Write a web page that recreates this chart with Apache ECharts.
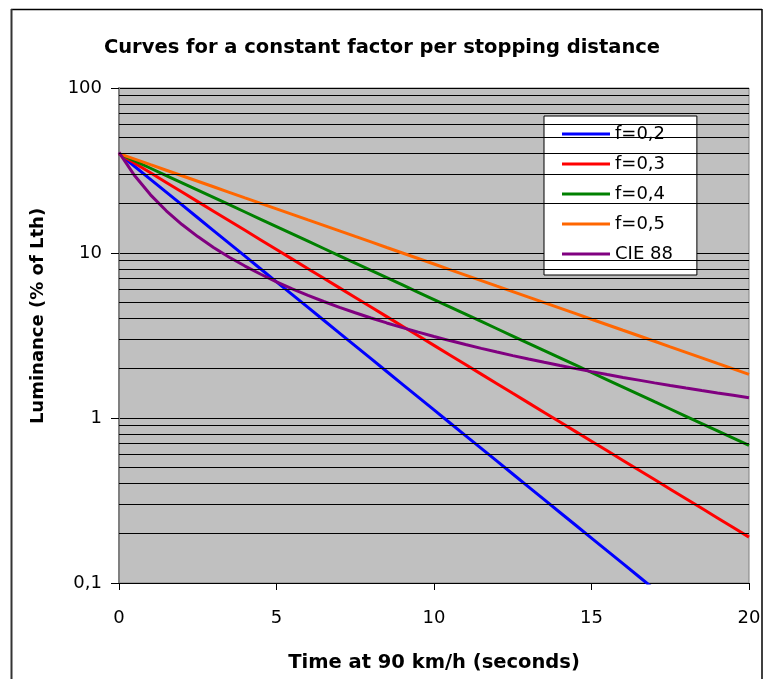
<!DOCTYPE html>
<html>
<head>
<meta charset="utf-8">
<script src="https://cdn.jsdelivr.net/npm/echarts@6/dist/echarts.min.js"></script>
<style>html,body{margin:0;padding:0;background:#fff;}#c{width:764px;height:679px;}</style>
</head>
<body>
<div id="c"></div>
<script>
var times = [0,0.5,1,1.5,2,2.5,3,3.5,4,4.5,5,5.5,6,6.5,7,7.5,8,8.5,9,9.5,10,10.5,11,11.5,12,12.5,13,13.5,14,14.5,15,15.5,16,16.5,17,17.5,18,18.5,19,19.5,20];
var f02 = [40,33.45,27.97,23.39,19.56,16.36,13.68,11.44,9.566,8.0,6.69,5.595,4.679,3.913,3.272,2.736,2.288,1.913,1.6,1.338,1.119,0.9357,0.7825,0.6544,0.5472,0.4576,0.3827,0.32,0.2676,0.2238,0.1872,0.1565,0.1309,0.1095,0.0915];
var f03 = [40,34.99,30.61,26.78,23.43,20.49,17.93,15.68,13.72,12.0,10.5,9.184,8.033,7.028,6.148,5.378,4.705,4.116,3.6,3.15,2.755,2.41,2.108,1.844,1.614,1.411,1.235,1.08,0.9448,0.8265,0.723,0.6325,0.5533,0.484,0.4234,0.3704,0.324,0.2835,0.248,0.2169,0.1897];
var f04 = [40,36.13,32.63,29.48,26.62,24.05,21.72,19.62,17.72,16.0,14.45,13.05,11.79,10.65,9.617,8.686,7.846,7.087,6.4,5.781,5.222,4.716,4.26,3.847,3.475,3.139,2.835,2.561,2.313,2.089,1.887,1.704,1.539,1.39,1.255,1.134,1.024,0.9249,0.8354,0.7546,0.6815];
var f05 = [40,37.04,34.29,31.75,29.4,27.22,25.2,23.33,21.6,20.0,18.52,17.15,15.87,14.7,13.61,12.6,11.67,10.8,10.0,9.259,8.573,7.938,7.35,6.805,6.3,5.834,5.401,5.0,4.63,4.287,3.969,3.675,3.402,3.15,2.917,2.7,2.5,2.315,2.143,1.985,1.837];
var cie88 = [40.71,29.36,22.52,18.03,14.88,12.57,10.81,9.433,8.334,7.436,6.692,6.069,5.537,5.082,4.687,4.342,4.037,3.768,3.528,3.314,3.12,2.946,2.787,2.643,2.511,2.389,2.278,2.175,2.08,1.992,1.91,1.833,1.762,1.696,1.633,1.574,1.519,1.467,1.418,1.372,1.328];
var seriesNames = ['f=0,2','f=0,3','f=0,4','f=0,5','CIE 88'];
var seriesColors = ['#0000ff','#ff0000','#008000','#ff6600','#800080'];
var xTicks = [0,5,10,15,20];
var yDecades = [0.1,1,10,100];
var minorGridValues = [0.2,0.3,0.4,0.5,0.6,0.7,0.8,0.9,2,3,4,5,6,7,8,9,20,30,40,50,60,70,80,90];

function pairs(vals){ return vals.map(function(v,i){ return [times[i], v]; }); }
var allData = [f02,f03,f04,f05,cie88];

var chart = echarts.init(document.getElementById('c'), null, {renderer:'canvas'});
var FONT = 'DejaVu Sans, Liberation Sans, sans-serif';
var series = [{
  type:'line', data:[], silent:true, z:1,
  markLine:{
    silent:true, symbol:['none','none'], animation:false,
    label:{show:false},
    lineStyle:{color:'#000', width:1, type:'solid'},
    data: minorGridValues.map(function(v){ return {yAxis:v}; })
  }
}];
allData.forEach(function(d,i){
  series.push({
    name: seriesNames[i], type:'line', data: pairs(d), symbol:'none', showSymbol:false,
    z:3, clip:true,
    lineStyle:{color:seriesColors[i], width:3},
    itemStyle:{color:seriesColors[i]}
  });
});

chart.setOption({
  animation:false,
  backgroundColor:'#fff',
  title:{
    text:'Curves for a constant factor per stopping distance',
    left:'center', top:33,
    textStyle:{fontFamily:FONT, fontSize:19.5, fontWeight:'bold', color:'#000'}
  },
  legend:{
    orient:'vertical', left:544, top:116,
    data: seriesNames.map(function(n){ return {name:n, icon:'path://M0,0H48V3H0Z'}; }),
    symbolKeepAspect:true,
    backgroundColor:'#fff', borderColor:'#000', borderWidth:1,
    padding:[9,24,12,18], itemGap:12, itemWidth:48, itemHeight:14,
    textStyle:{fontFamily:FONT, fontSize:18, color:'#000'}
  },
  grid:{left:119, top:88, right:15, bottom:96, show:true, backgroundColor:'#c0c0c0', borderColor:'#808080', borderWidth:1},
  xAxis:{
    type:'value', min:0, max:20, interval:5,
    axisLine:{show:true, lineStyle:{color:'#000', width:1}},
    axisTick:{show:true, length:7, lineStyle:{color:'#000'}},
    splitLine:{show:false},
    axisLabel:{fontFamily:FONT, fontSize:18, color:'#000', margin:26,
      formatter:function(v){ return xTicks.indexOf(v)>=0 ? String(v) : ''; }},
    name:'Time at 90 km/h (seconds)', nameLocation:'middle', nameGap:70,
    nameTextStyle:{fontFamily:FONT, fontSize:19.5, fontWeight:'bold', color:'#000'}
  },
  yAxis:{
    type:'log', logBase:10, min:0.1, max:100,
    axisLine:{show:true, lineStyle:{color:'#808080', width:2}},
    axisTick:{show:true, length:8, lineStyle:{color:'#000'}},
    splitLine:{show:true, lineStyle:{color:'#000', width:1}},
    axisLabel:{fontFamily:FONT, fontSize:18, color:'#000', margin:17,
      formatter:function(v){ var r = yDecades.filter(function(d){return Math.abs(d-v)/d<1e-6;}); return r.length? String(r[0]).replace('.',',') : ''; }}
  },
  graphic:[
    {type:'text', x:38, y:316, rotation:Math.PI/2, z:10,
     style:{text:'Luminance (% of Lth)', fontFamily:FONT, fontSize:18, fontWeight:'bold', fill:'#000', align:'center', verticalAlign:'middle'}},
    {type:'line', shape:{x1:11, y1:9.5, x2:762, y2:9.5}, style:{stroke:'#000', lineWidth:1.5}, z:10},
    {type:'line', shape:{x1:11.5, y1:9, x2:11.5, y2:690}, style:{stroke:'#333', lineWidth:2}, z:10},
    {type:'line', shape:{x1:762, y1:9, x2:762, y2:690}, style:{stroke:'#000', lineWidth:1.5}, z:10}
  ],
  series: series
});
</script>
</body>
</html>
